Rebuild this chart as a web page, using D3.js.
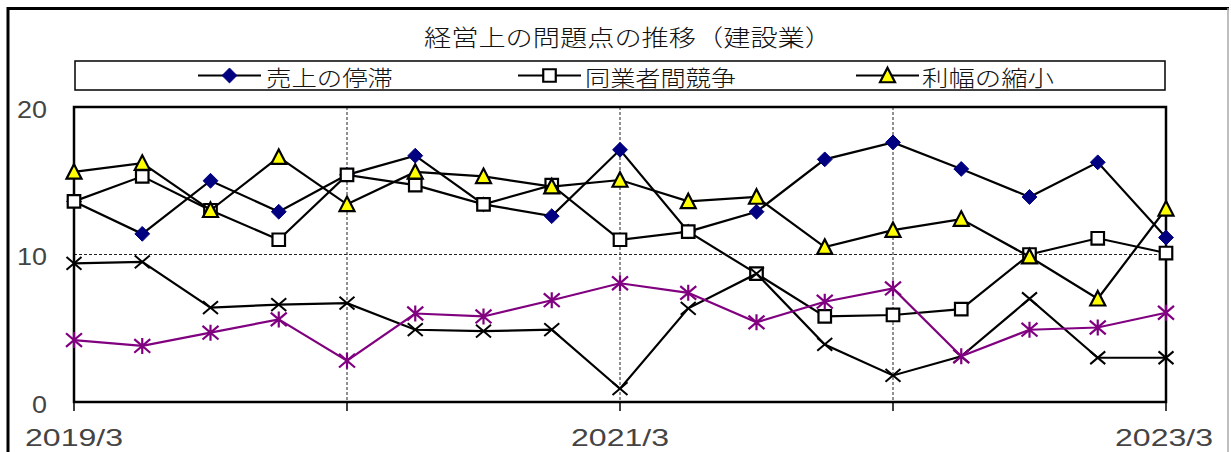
<!DOCTYPE html>
<html>
<head>
<meta charset="utf-8">
<script src="https://cdn.jsdelivr.net/npm/d3@7"></script>
<style>
  html, body { margin: 0; padding: 0; background: #fff; }
  svg { display: block; }
  text { font-family: "Noto Sans CJK JP", "Noto Sans", sans-serif; }
  text.num { font-family: "Liberation Sans", "DejaVu Sans", sans-serif; }
</style>
</head>
<body>
<svg id="chart" width="1231" height="452"></svg>
<script>
// ---- data ----
const titleText = "経営上の問題点の推移（建設業）";
const periods = ["2019/3","2019/6","2019/9","2019/12","2020/3","2020/6","2020/9","2020/12",
                 "2021/3","2021/6","2021/9","2021/12","2022/3","2022/6","2022/9","2022/12","2023/3"];
const xTickLabels = ["2019/3", "2021/3", "2023/3"];
const gridPeriods = ["2020/3", "2021/3", "2022/3"];
const tickPeriods = ["2019/3", "2020/3", "2021/3", "2022/3", "2023/3"];
const yTicks = [0, 10, 20];

const salesStagnation = [13.6, 11.4, 15.0, 12.9, 15.4, 16.7, 13.4, 12.6, 17.1, 11.55, 12.9, 16.45, 17.6, 15.8, 13.9, 16.25, 11.15];
const competition     = [13.6, 15.3, 13.0, 11.0, 15.4, 14.7, 13.4, 14.7, 11.0, 11.55, 8.7, 5.8, 5.9, 6.3, 10.0, 11.1, 10.1];
const marginShrink    = [15.6, 16.2, 13.0, 16.6, 13.4, 15.6, 15.3, 14.6, 15.05, 13.6, 13.9, 10.5, 11.65, 12.4, 9.85, 7.0, 13.1];
const seriesX         = [9.4, 9.5, 6.4, 6.6, 6.7, 4.9, 4.8, 4.9, 0.9, 6.35, 8.7, 3.9, 1.8, 3.1, 7.0, 3.0, 3.0];
const seriesStar      = [4.2, 3.8, 4.7, 5.6, 2.8, 6.0, 5.8, 6.9, 8.05, 7.4, 5.4, 6.8, 7.7, 3.1, 4.9, 5.05, 6.05];

const legendNames = ["売上の停滞", "同業者間競争", "利幅の縮小"];

// ---- setup ----
const svg = d3.select("#chart");
const plot = { left: 74, right: 1166, top: 107, bottom: 402 };

const x = d3.scalePoint().domain(periods).range([plot.left, plot.right]);
const y = d3.scaleLinear().domain([0, 20]).range([plot.bottom, plot.top]);

// outer frame
svg.append("line").attr("x1", 8).attr("x2", 8).attr("y1", 7).attr("y2", 452)
  .attr("stroke", "#000").attr("stroke-width", 3);
svg.append("line").attr("x1", 7).attr("x2", 1229).attr("y1", 8.5).attr("y2", 8.5)
  .attr("stroke", "#000").attr("stroke-width", 3);
svg.append("line").attr("x1", 1228).attr("x2", 1228).attr("y1", 8).attr("y2", 452)
  .attr("stroke", "#aaa").attr("stroke-width", 1.5);

// title
svg.append("text").attr("x", 628).attr("y", 36)
  .attr("text-anchor", "middle").attr("dominant-baseline", "central")
  .attr("font-size", 23).attr("font-weight", 300).attr("fill", "#111")
  .attr("textLength", 408).attr("lengthAdjust", "spacingAndGlyphs")
  .text(titleText);

// legend
svg.append("rect").attr("x", 75).attr("y", 61).attr("width", 1090).attr("height", 29)
  .attr("fill", "#fff").attr("stroke", "#000").attr("stroke-width", 1.5);

// markers
const diamondPath = d3.symbol().type(d3.symbolDiamond2).size(140)();
const squarePath = d3.symbol().type(d3.symbolSquare2).size(200)();
function trianglePath(s) {
  const h = s * 0.9;
  return `M0,${-h/2 - 1}L${s/2},${h/2}L${-s/2},${h/2}Z`;
}
function xPath(s) {
  const r = s / 2;
  return `M${-r},${-r * 0.85}L${r},${r * 0.85}M${-r},${r * 0.85}L${r},${-r * 0.85}`;
}
function starPath(s) {
  const r = s / 2;
  return xPath(s) + `M0,${-r}L0,${r}`;
}

function drawMarker(g, type) {
  if (type === "diamond") {
    g.append("path").attr("d", diamondPath).attr("fill", "#000080").attr("stroke", "#000080").attr("stroke-width", 1);
  } else if (type === "square") {
    g.append("path").attr("d", squarePath).attr("fill", "#fff").attr("stroke", "#000").attr("stroke-width", 2.2);
  } else if (type === "triangle") {
    g.append("path").attr("d", trianglePath(15)).attr("fill", "#ffff00").attr("stroke", "#000").attr("stroke-width", 2.2).attr("stroke-linejoin", "miter");
  } else if (type === "x") {
    g.append("path").attr("d", xPath(15)).attr("fill", "none").attr("stroke", "#000").attr("stroke-width", 2);
  } else if (type === "star") {
    g.append("path").attr("d", starPath(16)).attr("fill", "none").attr("stroke", "#800080").attr("stroke-width", 2.2);
  }
}

const legendItems = [
  { name: legendNames[0], type: "diamond", lx: 198, tx: 266, tw: 127 },
  { name: legendNames[1], type: "square", lx: 518, tx: 585, tw: 151 },
  { name: legendNames[2], type: "triangle", lx: 856, tx: 922, tw: 132 }
];
legendItems.forEach(it => {
  svg.append("line").attr("x1", it.lx).attr("x2", it.lx + 63).attr("y1", 75.5).attr("y2", 75.5)
    .attr("stroke", "#000").attr("stroke-width", 2.2);
  const g = svg.append("g").attr("transform", `translate(${it.lx + 31.5},75.5)`);
  drawMarker(g, it.type);
  svg.append("text").attr("x", it.tx).attr("y", 76).attr("dominant-baseline", "central")
    .attr("font-size", 22).attr("font-weight", 300).attr("fill", "#111")
    .attr("textLength", it.tw).attr("lengthAdjust", "spacingAndGlyphs")
    .text(it.name);
});

// plot background
svg.append("rect").attr("x", plot.left).attr("y", plot.top)
  .attr("width", plot.right - plot.left).attr("height", plot.bottom - plot.top)
  .attr("fill", "#fff");

// gridlines
svg.append("g").selectAll("line").data(gridPeriods).join("line")
  .attr("x1", d => x(d)).attr("x2", d => x(d))
  .attr("y1", plot.top).attr("y2", plot.bottom)
  .attr("stroke", "#222").attr("stroke-width", 1).attr("stroke-dasharray", "3,2");
svg.append("line").attr("x1", plot.left).attr("x2", plot.right)
  .attr("y1", y(10)).attr("y2", y(10))
  .attr("stroke", "#222").attr("stroke-width", 1).attr("stroke-dasharray", "3,2");

// x ticks below axis
svg.append("g").selectAll("line").data(tickPeriods).join("line")
  .attr("x1", d => x(d)).attr("x2", d => x(d))
  .attr("y1", plot.bottom).attr("y2", plot.bottom + 9)
  .attr("stroke", "#000").attr("stroke-width", 1.5);

// plot border
svg.append("rect").attr("x", plot.left).attr("y", plot.top)
  .attr("width", plot.right - plot.left).attr("height", plot.bottom - plot.top)
  .attr("fill", "none").attr("stroke", "#000").attr("stroke-width", 2.5);

// y tick labels
svg.append("g").selectAll("text").data(yTicks).join("text")
  .attr("class", "num")
  .attr("x", 47).attr("y", d => y(d) + 2)
  .attr("text-anchor", "end").attr("dominant-baseline", "central")
  .attr("font-size", 24).attr("fill", "#444")
  .attr("textLength", d => String(d).length * 15).attr("lengthAdjust", "spacingAndGlyphs")
  .text(d => d);

// x tick labels
svg.append("g").selectAll("text").data(xTickLabels).join("text")
  .attr("class", "num")
  .attr("x", (d, i) => x(d) + (i === 2 ? -2 : 0)).attr("y", 437)
  .attr("text-anchor", "middle").attr("dominant-baseline", "central")
  .attr("font-size", 24).attr("fill", "#444")
  .attr("textLength", 98).attr("lengthAdjust", "spacingAndGlyphs")
  .text(d => d);

// series
const series = [
  { values: salesStagnation, type: "diamond", color: "#000" },
  { values: competition, type: "square", color: "#000" },
  { values: marginShrink, type: "triangle", color: "#000" },
  { values: seriesX, type: "x", color: "#000" },
  { values: seriesStar, type: "star", color: "#800080" }
];
const lineGen = d3.line().x((d, i) => x(periods[i])).y(d => y(d));

series.forEach(s => {
  svg.append("path").datum(s.values).attr("d", lineGen)
    .attr("fill", "none").attr("stroke", s.color).attr("stroke-width", 2.2)
    .attr("stroke-linejoin", "miter");
  const gs = svg.append("g");
  s.values.forEach((v, i) => {
    const g = gs.append("g").attr("transform", `translate(${x(periods[i])},${y(v)})`);
    drawMarker(g, s.type);
  });
});
</script>
</body>
</html>
